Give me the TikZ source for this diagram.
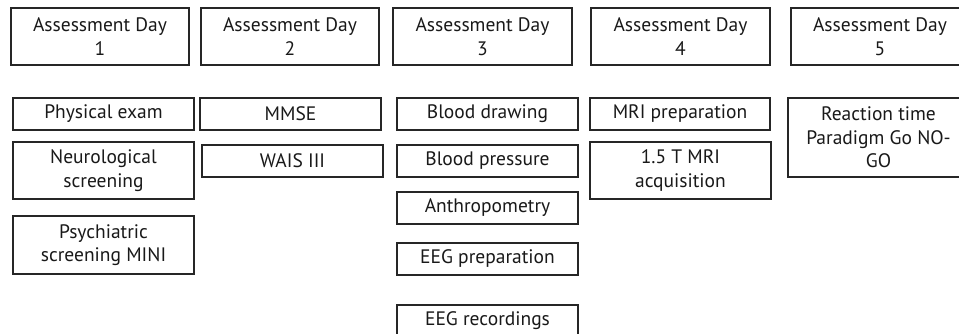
\documentclass[tikz,border=0pt]{standalone}
\usepackage{fontspec}
\setmainfont{PT Sans}
\begin{document}
\begin{tikzpicture}[x=1pt,y=-1pt,
  box/.style={draw=black!85, line width=1.3pt, fill=white, inner sep=0pt, align=center,
    font=\fontsize{19.5}{23.5}\selectfont, text=black!90}]
\useasboundingbox (0,0) rectangle (959,333);
\clip (0,0) rectangle (959,333);
% headers
\node[box, minimum width=178, minimum height=57] (d1) at (100,36.5) {Assessment Day\\1};
\node[box, minimum width=178, minimum height=57] (d2) at (290,36.5) {Assessment Day\\2};
\node[box, minimum width=179, minimum height=57] (d3) at (482.5,36.5) {Assessment Day\\3};
\node[box, minimum width=179, minimum height=57] (d4) at (680.5,36.5) {Assessment Day\\4};
\node[box, minimum width=178, minimum height=57] (d5) at (880,36.5) {Assessment Day\\5};
% day 1
\node[box, minimum width=181, minimum height=32] (pe) at (103.5,114) {Physical exam};
\node[box, minimum width=181, minimum height=57] (ns) at (103.5,170.5) {Neurological\\screening};
\node[box, minimum width=181, minimum height=58] (ps) at (103.5,245) {Psychiatric\\screening MINI};
% day 2
\node[box, minimum width=181, minimum height=32] (mm) at (290.5,114) {MMSE};
\node[box, minimum width=181, minimum height=32] (wa) at (292.5,161) {WAIS III};
% day 3
\node[box, minimum width=181, minimum height=32] (bd) at (487.5,114) {Blood drawing};
\node[box, minimum width=181, minimum height=32] (bp) at (487.5,161) {Blood pressure};
\node[box, minimum width=181, minimum height=32] (an) at (487.5,208) {Anthropometry};
\node[box, minimum width=181, minimum height=32] (ep) at (487.5,259) {EEG preparation};
\node[box, minimum width=181, minimum height=32] (er) at (487.5,321) {EEG recordings};
% day 4
\node[box, minimum width=180, minimum height=32] (mp) at (680,114) {MRI preparation};
\node[box, minimum width=181, minimum height=57] (ma) at (680.5,170.5) {1.5 T MRI\\acquisition};
% day 5
\node[box, minimum width=181, minimum height=79] (rt) at (878.5,137.5) {Reaction time\\Paradigm Go NO-\\GO};
\end{tikzpicture}
\end{document}
